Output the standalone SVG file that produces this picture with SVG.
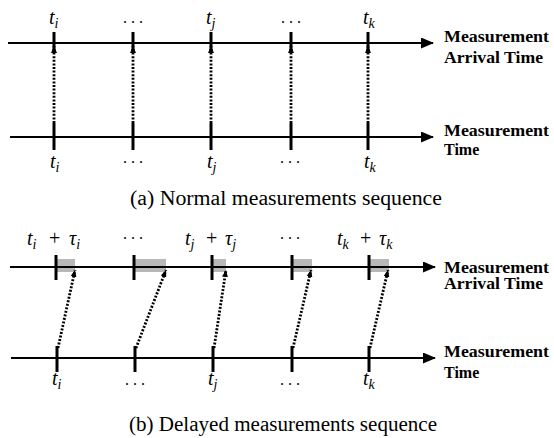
<svg xmlns="http://www.w3.org/2000/svg" width="554" height="438" viewBox="0 0 554 438">
<style>
.axis{stroke:#000;stroke-width:2;fill:none}
.tick{stroke:#000;stroke-width:3}
.dot{stroke:#000;stroke-width:2.8;stroke-dasharray:2 1.6;fill:none}
.m{font-family:'Liberation Serif','Times New Roman',serif;font-style:italic;font-size:20px;fill:#000}
.s{font-size:14px}
.p{font-style:normal}
.dots{font-family:'Liberation Serif',serif;font-size:16px;fill:#000;letter-spacing:4px}
.lab{font-family:'Liberation Serif','Times New Roman',serif;font-weight:bold;font-size:16px;fill:#000}
.cap{font-family:'Liberation Serif','Times New Roman',serif;font-size:20px;fill:#000}
.box{fill:#b8b8b8}
</style>
<defs>
<marker id="ax" markerUnits="userSpaceOnUse" markerWidth="13" markerHeight="11" refX="12" refY="5.5" orient="auto"><path d="M0,0 L13,5.5 L0,11 z" fill="#000"/></marker>
<marker id="ah" markerUnits="userSpaceOnUse" markerWidth="7" markerHeight="6" refX="7" refY="3" orient="auto"><path d="M0,0 L7,3 L0,6 z" fill="#000"/></marker>
</defs>
<rect width="554" height="438" fill="#fff"/>

<!-- Panel (a) -->
<g id="a-arrival-axis">
<line class="axis" x1="8" y1="43" x2="433" y2="43" marker-end="url(#ax)"/>
<line class="tick" x1="54" y1="32" x2="54" y2="51"/>
<line class="tick" x1="133" y1="32" x2="133" y2="51"/>
<line class="tick" x1="211" y1="32" x2="211" y2="51"/>
<line class="tick" x1="291" y1="32" x2="291" y2="51"/>
<line class="tick" x1="368" y1="32" x2="368" y2="51"/>
<text class="lab" x="444" y="42" textLength="105" lengthAdjust="spacingAndGlyphs">Measurement</text>
<text class="lab" x="444" y="63" textLength="99" lengthAdjust="spacingAndGlyphs">Arrival Time</text>
</g>
<g id="a-top-labels">
<text class="m" x="49" y="24">t<tspan class="s" dy="4">i</tspan></text>
<text class="dots" x="123" y="23">...</text>
<text class="m" x="206" y="24">t<tspan class="s" dy="4">j</tspan></text>
<text class="dots" x="281" y="23">...</text>
<text class="m" x="363" y="24">t<tspan class="s" dy="4">k</tspan></text>
</g>
<g id="a-measurement-axis">
<line class="axis" x1="10" y1="137" x2="433" y2="137" marker-end="url(#ax)"/>
<line class="tick" x1="54" y1="123" x2="54" y2="150"/>
<line class="tick" x1="133" y1="123" x2="133" y2="150"/>
<line class="tick" x1="211" y1="123" x2="211" y2="150"/>
<line class="tick" x1="291" y1="123" x2="291" y2="150"/>
<line class="tick" x1="368" y1="123" x2="368" y2="150"/>
<text class="lab" x="444" y="136" textLength="105" lengthAdjust="spacingAndGlyphs">Measurement</text>
<text class="lab" x="444" y="155">Time</text>
</g>
<g id="a-bottom-labels">
<text class="m" x="50" y="168">t<tspan class="s" dy="4">i</tspan></text>
<text class="dots" x="123" y="163">...</text>
<text class="m" x="207" y="168">t<tspan class="s" dy="4">j</tspan></text>
<text class="dots" x="280" y="163">...</text>
<text class="m" x="364" y="168">t<tspan class="s" dy="4">k</tspan></text>
</g>
<g id="a-connectors">
<line class="dot" x1="54" y1="123" x2="54" y2="46" marker-end="url(#ah)"/>
<line class="dot" x1="133" y1="123" x2="133" y2="46" marker-end="url(#ah)"/>
<line class="dot" x1="211" y1="123" x2="211" y2="46" marker-end="url(#ah)"/>
<line class="dot" x1="291" y1="123" x2="291" y2="46" marker-end="url(#ah)"/>
<line class="dot" x1="368" y1="123" x2="368" y2="46" marker-end="url(#ah)"/>
</g>
<text class="cap" x="130" y="205" textLength="312" lengthAdjust="spacingAndGlyphs">(a) Normal measurements sequence</text>

<!-- Panel (b) -->
<g id="b-arrival-axis">
<rect class="box" x="57" y="259" width="18" height="13"/>
<rect class="box" x="135" y="259" width="31" height="13"/>
<rect class="box" x="213" y="259" width="13" height="13"/>
<rect class="box" x="293" y="259" width="19" height="13"/>
<rect class="box" x="370" y="259" width="19" height="13"/>
<line class="axis" x1="10" y1="267" x2="435" y2="267" marker-end="url(#ax)"/>
<line class="tick" x1="56" y1="255" x2="56" y2="280"/>
<line class="tick" x1="134" y1="255" x2="134" y2="280"/>
<line class="tick" x1="212" y1="255" x2="212" y2="280"/>
<line class="tick" x1="292" y1="255" x2="292" y2="280"/>
<line class="tick" x1="369" y1="255" x2="369" y2="280"/>
<text class="lab" x="444" y="273" textLength="105" lengthAdjust="spacingAndGlyphs">Measurement</text>
<text class="lab" x="444" y="289" textLength="99" lengthAdjust="spacingAndGlyphs">Arrival Time</text>
</g>
<g id="b-top-labels">
<text class="m" x="27" y="245">t<tspan class="s" dy="4">i</tspan><tspan class="p" x="49" dy="-4">+</tspan><tspan x="69">τ</tspan><tspan class="s" dy="4">i</tspan></text>
<text class="dots" x="123" y="239">...</text>
<text class="m" x="185" y="245">t<tspan class="s" dy="4">j</tspan><tspan class="p" x="206" dy="-4">+</tspan><tspan x="225">τ</tspan><tspan class="s" dy="4">j</tspan></text>
<text class="dots" x="280" y="239">...</text>
<text class="m" x="337" y="245">t<tspan class="s" dy="4">k</tspan><tspan class="p" x="360" dy="-4">+</tspan><tspan x="379">τ</tspan><tspan class="s" dy="4">k</tspan></text>
</g>
<g id="b-measurement-axis">
<line class="axis" x1="11" y1="358" x2="435" y2="358" marker-end="url(#ax)"/>
<line class="tick" x1="57" y1="346" x2="57" y2="372"/>
<line class="tick" x1="135" y1="346" x2="135" y2="372"/>
<line class="tick" x1="213" y1="346" x2="213" y2="372"/>
<line class="tick" x1="292" y1="346" x2="292" y2="372"/>
<line class="tick" x1="369" y1="346" x2="369" y2="372"/>
<text class="lab" x="444" y="357" textLength="105" lengthAdjust="spacingAndGlyphs">Measurement</text>
<text class="lab" x="444" y="378">Time</text>
</g>
<g id="b-bottom-labels">
<text class="m" x="52" y="385">t<tspan class="s" dy="4">i</tspan></text>
<text class="dots" x="125" y="385">...</text>
<text class="m" x="208" y="385">t<tspan class="s" dy="4">j</tspan></text>
<text class="dots" x="280" y="385">...</text>
<text class="m" x="363" y="385">t<tspan class="s" dy="4">k</tspan></text>
</g>
<g id="b-connectors">
<line class="dot" x1="58" y1="348" x2="75" y2="270" marker-end="url(#ah)"/>
<line class="dot" x1="136" y1="348" x2="166" y2="270" marker-end="url(#ah)"/>
<line class="dot" x1="214" y1="348" x2="226" y2="270" marker-end="url(#ah)"/>
<line class="dot" x1="293" y1="348" x2="311" y2="270" marker-end="url(#ah)"/>
<line class="dot" x1="370" y1="348" x2="388" y2="270" marker-end="url(#ah)"/>
</g>
<text class="cap" x="129" y="431" textLength="308" lengthAdjust="spacingAndGlyphs">(b) Delayed measurements sequence</text>
</svg>
